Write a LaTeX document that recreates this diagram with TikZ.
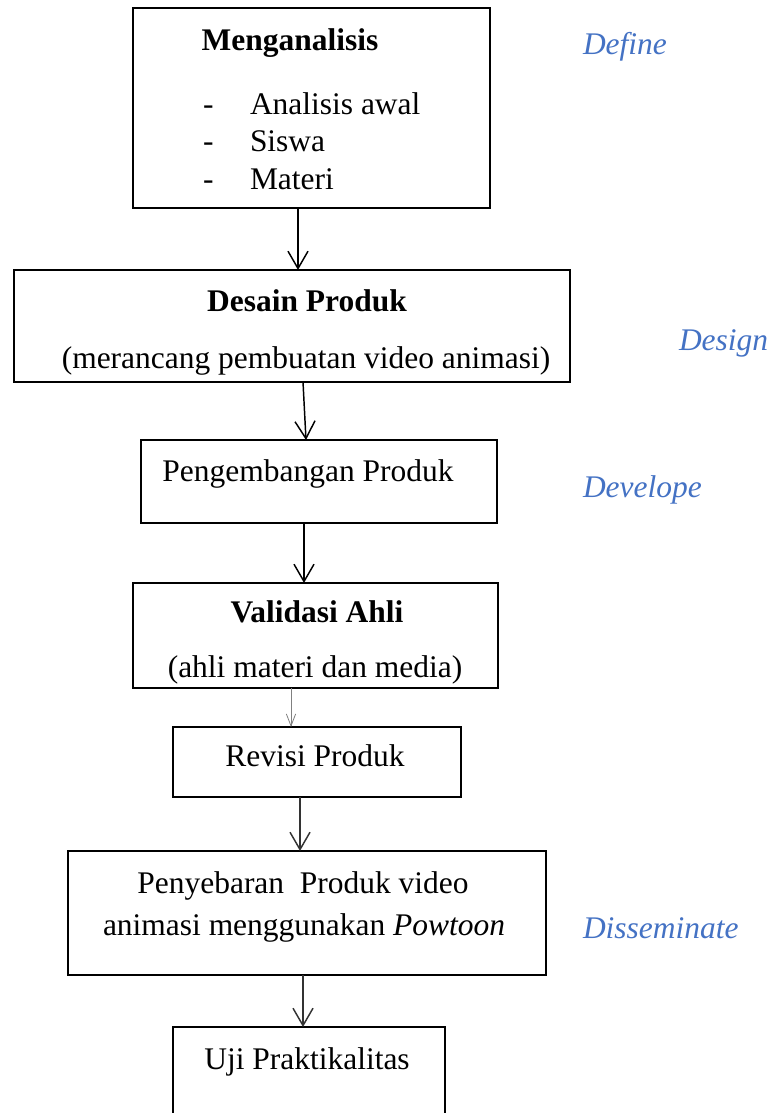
\documentclass[tikz,border=0pt]{standalone}
\usepackage{fontspec}
\setmainfont{Liberation Serif}
\usetikzlibrary{arrows.meta}
\definecolor{phase}{HTML}{4472C4}
\begin{document}
\begin{tikzpicture}[x=0.75pt,y=-0.75pt,
  box/.style={draw=black,line width=1.5pt,inner sep=0pt,outer sep=0pt,fill=none},
  txt/.style={inner sep=0pt,outer sep=0pt,anchor=base,font=\fontsize{23.6}{28}\selectfont},
  phaselbl/.style={txt,anchor=base west,text=phase,font=\fontsize{23.6}{28}\selectfont\itshape},
  arr/.style={line width=1.1pt,-{Straight Barb[length=13pt,width=15pt,line width=1.1pt]}},
  thinarr/.style={line width=0.6pt,draw=black!50,-{Straight Barb[length=9pt,width=7pt,line width=0.6pt]}}]
\clip (0,0) rectangle (773,1113);
\fill[white] (0,0) rectangle (773,1113);
% boxes
\node[box,minimum width=267.75pt,minimum height=150pt] (b1) at (311.5,108) {};
\node[box,minimum width=417pt,minimum height=84pt] (b2) at (292,326) {};
\node[box,minimum width=267pt,minimum height=62.25pt] (b3) at (319,481.5) {};
\node[box,minimum width=273.75pt,minimum height=78.75pt] (b4) at (315.5,635.5) {};
\node[box,minimum width=216pt,minimum height=52.5pt] (b5) at (317,762) {};
\node[box,minimum width=358.5pt,minimum height=93pt] (b6) at (307,913) {};
\node[box,minimum width=204pt,minimum height=112.5pt] (b7) at (309,1102) {};
% texts
\node[txt,font=\fontsize{23.6}{28}\selectfont\bfseries] (t1) at (290,51) {Menganalisis};
\node[txt,anchor=base west] (d1) at (203,114) {-};
\node[txt,anchor=base west] (d2) at (203,151) {-};
\node[txt,anchor=base west] (d3) at (203,189) {-};
\node[txt,anchor=base west] (t1a) at (250,114) {Analisis awal};
\node[txt,anchor=base west] (t1b) at (250,151) {Siswa};
\node[txt,anchor=base west] (t1c) at (250,189) {Materi};
\node[txt,font=\fontsize{23.6}{28}\selectfont\bfseries] (t2) at (307,311) {Desain Produk};
\node[txt] (t2a) at (306,368) {(merancang pembuatan video animasi)};
\node[txt] (t3) at (308,481) {Pengembangan Produk};
\node[txt,font=\fontsize{23.6}{28}\selectfont\bfseries] (t4) at (317,622) {Validasi Ahli};
\node[txt] (t4a) at (315,677) {(ahli materi dan media)};
\node[txt] (t5) at (315,766) {Revisi Produk};
\node[txt] (t6) at (303,893) {Penyebaran\ \ Produk video};
\node[txt] (t6a) at (304,935) {animasi menggunakan \textit{Powtoon}};
\node[txt] (t7) at (307,1069) {Uji Praktikalitas};
% phase labels
\node[phaselbl] (p1) at (583,55) {Define};
\node[phaselbl] (p2) at (679,350) {Design};
\node[phaselbl] (p3) at (583,497) {Develope};
\node[phaselbl] (p4) at (583,938) {Disseminate};
% arrows
\draw[arr] (298,0 |- b1.south) -- (298,0 |- b2.north);
\draw[arr] (303,0 |- b2.south) -- (306,0 |- b3.north);
\draw[arr] (304,0 |- b3.south) -- (304,0 |- b4.north);
\draw[thinarr] (291,0 |- b4.south) -- (291,0 |- b5.north);
\draw[arr,draw=black!80] (300,0 |- b5.south) -- (300,0 |- b6.north);
\draw[arr,draw=black!80] (303,0 |- b6.south) -- (303,0 |- b7.north);
\end{tikzpicture}
\end{document}
